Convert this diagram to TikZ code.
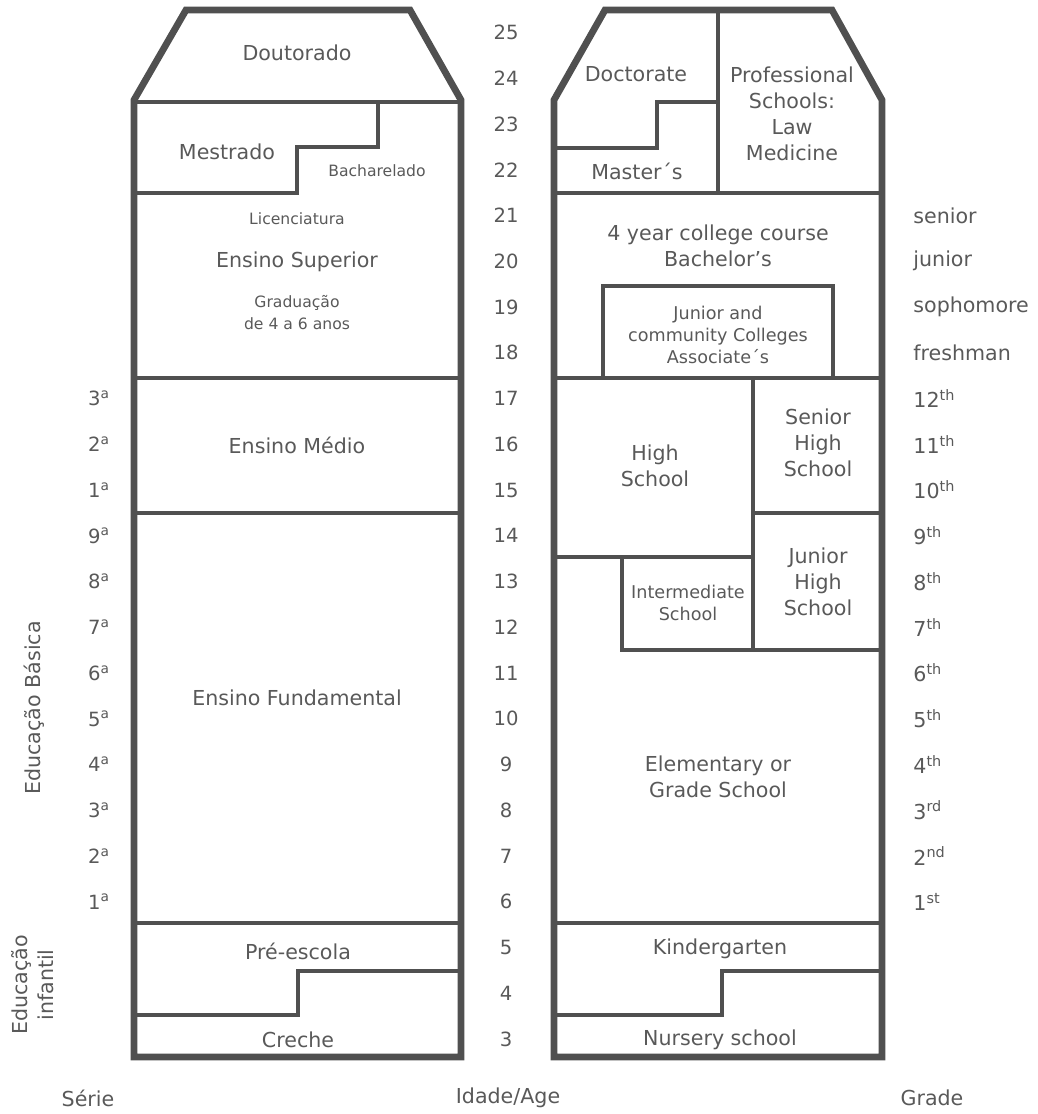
\documentclass[tikz,border=0pt]{standalone}
\usepackage{fontspec}
\setmainfont{DejaVu Sans}
\definecolor{ink}{HTML}{595959}
\definecolor{rule}{HTML}{505050}
\begin{document}
\begin{tikzpicture}[x=0.5pt,y=-0.5pt,
  frame/.style={draw=rule,line width=3.4pt,line join=miter},
  wall/.style={draw=rule,line width=2pt},
  big/.style={font=\fontsize{10.3}{13}\selectfont,text=ink,align=center,inner sep=0pt},
  small/.style={font=\fontsize{7.8}{10}\selectfont,text=ink,align=center,inner sep=0pt},
  mid/.style={font=\fontsize{8.8}{11}\selectfont,text=ink,align=center,inner sep=0pt},
  age/.style={font=\fontsize{9.8}{12}\selectfont,text=ink,inner sep=0pt}]
  \useasboundingbox (0,0) rectangle (1038,1114);
  % Brazil
  \draw[wall] (134,102) -- (461,102);
  \draw[wall] (378,102) -- (378,147) -- (297,147) -- (297,193) -- (134,193);
  \draw[wall] (134,378) -- (461,378);
  \draw[wall] (134,513) -- (461,513);
  \draw[wall] (134,923) -- (461,923);
  \draw[wall] (461,971) -- (298,971) -- (298,1015) -- (134,1015);
  \draw[frame] (134,100) -- (186,10) -- (410,10) -- (461,100) -- (461,1057) -- (134,1057) -- cycle;
  \node[big] (doutorado) at (297,53) {Doutorado};
  \node[big] (mestrado) at (227,152) {Mestrado};
  \node[small] (bacharelado) at (377,171) {Bacharelado};
  \node[small] (licenciatura) at (297,219) {Licenciatura};
  \node[big] (superior) at (297,262) {Ensino Superior};
  \node[small,font=\fontsize{7.8}{11}\selectfont] (graduacao) at (297,313) {Graduação\\de 4 a 6 anos};
  \node[big] (medio) at (297,445) {Ensino Médio};
  \node[big] (fundamental) at (297,698) {Ensino Fundamental};
  \node[big] (preescola) at (298,951) {Pré-escola};
  \node[big] (creche) at (298,1040) {Creche};
  % USA
  \draw[wall] (718,10) -- (718,193);
  \draw[wall] (718,102) -- (657,102) -- (657,148) -- (554,148);
  \draw[wall] (554,193) -- (882,193);
  \draw[wall] (603,378) -- (603,286) -- (833,286) -- (833,378);
  \draw[wall] (554,378) -- (882,378);
  \draw[wall] (753,378) -- (753,650);
  \draw[wall] (753,513) -- (882,513);
  \draw[wall] (554,557) -- (753,557);
  \draw[wall] (622,557) -- (622,650) -- (882,650);
  \draw[wall] (554,923) -- (882,923);
  \draw[wall] (882,971) -- (722,971) -- (722,1015) -- (554,1015);
  \draw[frame] (554,100) -- (605,10) -- (832,10) -- (882,100) -- (882,1057) -- (554,1057) -- cycle;
  \node[big] (doctorate) at (636,74) {Doctorate};
  \node[big] (masters) at (637,171) {Master´s};
  \node[big] (professional) at (792,114) {Professional\\Schools:\\Law\\Medicine};
  \node[big] (college) at (718,246) {4 year college course\\Bachelor's};
  \node[mid] (community) at (718,335) {Junior and\\community Colleges\\Associate´s};
  \node[big] (highschool) at (655,466) {High\\School};
  \node[big] (seniorhigh) at (818,443) {Senior\\High\\School};
  \node[big] (juniorhigh) at (818,582) {Junior\\High\\School};
  \node[mid] (intermediate) at (688,603) {Intermediate\\School};
  \node[big] (elementary) at (718,777) {Elementary or\\Grade School};
  \node[big] (kindergarten) at (720,949) {Kindergarten};
  \node[big] (nursery) at (720,1040) {Nursery school};
  % ages and grades
  \foreach \a in {3,...,25}
    \node[age] (age\a) at (506,{1039-(\a-3)*45.75}) {\a};
  \foreach \a/\s in {17/3,16/2,15/1,14/9,13/8,12/7,11/6,10/5,9/4,8/3,7/2,6/1}
    \node[age] (serie\a) at (99,{1039-(\a-3)*45.75}) {\s\textsuperscript{a}};
  \foreach \a/\g in {21/senior,20/junior,19/sophomore,18/freshman,17/{12\textsuperscript{th}},16/{11\textsuperscript{th}},15/{10\textsuperscript{th}},14/{9\textsuperscript{th}},13/{8\textsuperscript{th}},12/{7\textsuperscript{th}},11/{6\textsuperscript{th}},10/{5\textsuperscript{th}},9/{4\textsuperscript{th}},8/{3\textsuperscript{rd}},7/{2\textsuperscript{nd}},6/{1\textsuperscript{st}}}
    \node[big,anchor=west] (grade\a) at (913,{1039-(\a-3)*45.75}) {\g};
  \node[big,rotate=90] (basica) at (34,708) {Educação Básica};
  \node[big,rotate=90] (infantil) at (33,985) {Educação\\infantil};
  \node[big] (serie) at (88,1098) {Série};
  \node[big] (idade) at (508,1098) {Idade/Age};
  \node[big] (grade) at (932,1098) {Grade};
\end{tikzpicture}
\end{document}
